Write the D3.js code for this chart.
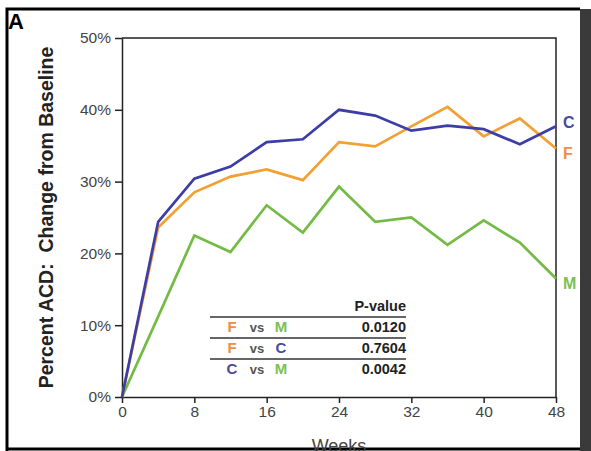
<!DOCTYPE html>
<html>
<head>
<meta charset="utf-8">
<script src="https://cdn.jsdelivr.net/npm/d3@7"></script>
<style>
  body { margin: 0; background: #fff; }
  svg { display: block; font-family: "Liberation Sans", Arial, sans-serif; }
</style>
</head>
<body>
<svg width="591" height="451"></svg>
<script>
// data (percent change from baseline)
const weeks = [0, 4, 8, 12, 16, 20, 24, 28, 32, 36, 40, 44, 48];
const seriesC = [0, 24.4, 30.4, 32.1, 35.5, 35.9, 40.0, 39.2, 37.1, 37.8, 37.3, 35.2, 37.7];
const seriesF = [0, 23.6, 28.5, 30.7, 31.7, 30.2, 35.5, 34.9, 37.7, 40.4, 36.3, 38.8, 34.6];
const seriesM = [0, 11.2, 22.5, 20.2, 26.7, 22.9, 29.3, 24.4, 25.0, 21.2, 24.6, 21.5, 16.5];
const xTicks = [0, 8, 16, 24, 32, 40, 48];
const yTicks = [0, 10, 20, 30, 40, 50];
const pRows = [
  { a: "F", b: "M", p: "0.0120" },
  { a: "F", b: "C", p: "0.7604" },
  { a: "C", b: "M", p: "0.0042" }
];

const colors = { C: "#3d3da6", F: "#f3a033", M: "#74bb45" };
const textColors = { C: "#4a4a9e", F: "#f08c45", M: "#7cc052" };

const svg = d3.select("svg");

// outer frame and dark strip on the right
svg.append("rect").attr("x", 580).attr("y", 9).attr("width", 11).attr("height", 442).attr("fill", "#3a3a3a");
svg.append("path").attr("d", "M7,451 V9 H580").attr("fill", "none").attr("stroke", "#000").attr("stroke-width", 3);
svg.append("line").attr("x1", 7).attr("x2", 580).attr("y1", 449).attr("y2", 449).attr("stroke", "#000").attr("stroke-width", 3);

svg.append("text").attr("x", 8).attr("y", 29).attr("font-size", 22).attr("font-weight", "bold").text("A");

const x = d3.scaleLinear().domain([0, 48]).range([122, 556]);
const y = d3.scaleLinear().domain([0, 50]).range([397, 38]);

// plot box top & right
svg.append("path").attr("d", `M${x(0)},${y(50)} H${x(48)} V${y(0)}`)
  .attr("fill", "none").attr("stroke", "#222").attr("stroke-width", 1.5);

const xAxis = svg.append("g").attr("transform", `translate(0,${y(0)})`)
  .call(d3.axisBottom(x).tickValues(xTicks).tickSize(6).tickSizeOuter(0).tickPadding(3));
const yAxis = svg.append("g").attr("transform", `translate(${x(0)},0)`)
  .call(d3.axisLeft(y).tickValues(yTicks).tickFormat(d => d + "%").tickSize(7).tickSizeOuter(0).tickPadding(4));
[xAxis, yAxis].forEach(g => {
  g.select(".domain").attr("stroke", "#222").attr("stroke-width", 1.5);
  g.selectAll(".tick line").attr("stroke", "#222").attr("stroke-width", 1.5);
  g.selectAll(".tick text").attr("fill", "#444").attr("font-size", 15.5).attr("font-family", "Liberation Sans, Arial, sans-serif");
});

svg.append("text")
  .attr("transform", `translate(53,${(y(0) + y(50)) / 2}) rotate(-90)`)
  .attr("text-anchor", "middle").attr("font-size", 19.5).attr("font-weight", "bold").attr("fill", "#222")
  .style("white-space", "pre")
  .text("Percent ACD:  Change from Baseline");

svg.append("text").attr("x", x(24)).attr("y", 452).attr("text-anchor", "middle")
  .attr("font-size", 18).attr("fill", "#444").text("Weeks");

// lines
const line = d3.line().x((d, i) => x(weeks[i])).y(d => y(d));
[["M", seriesM], ["F", seriesF], ["C", seriesC]].forEach(([k, vals]) => {
  svg.append("path").datum(vals).attr("d", line)
    .attr("fill", "none").attr("stroke", colors[k]).attr("stroke-width", 2.7).attr("stroke-linejoin", "miter");
});

// end labels
[["C", 128], ["F", 159], ["M", 289]].forEach(([k, yy]) => {
  svg.append("text").attr("x", 563).attr("y", yy).attr("font-size", 16).attr("font-weight", "bold")
    .attr("fill", textColors[k]).text(k);
});

// p-value table
const tbl = svg.append("g");
tbl.append("text").attr("x", 406).attr("y", 311).attr("text-anchor", "end")
  .attr("font-size", 14.5).attr("font-weight", "bold").attr("fill", "#222").text("P-value");
[317, 338, 359].forEach(ly => {
  tbl.append("line").attr("x1", 210).attr("x2", 406).attr("y1", ly).attr("y2", ly)
    .attr("stroke", "#333").attr("stroke-width", 1.3);
});
pRows.forEach((r, i) => {
  const by = 332 + i * 21;
  tbl.append("text").attr("x", 232).attr("y", by).attr("text-anchor", "middle").attr("font-size", 15)
    .attr("font-weight", "bold").attr("fill", textColors[r.a]).text(r.a);
  tbl.append("text").attr("x", 257).attr("y", by).attr("text-anchor", "middle").attr("font-size", 13)
    .attr("font-weight", "bold").attr("fill", "#555").text("vs");
  tbl.append("text").attr("x", 281).attr("y", by).attr("text-anchor", "middle").attr("font-size", 15)
    .attr("font-weight", "bold").attr("fill", textColors[r.b]).text(r.b);
  tbl.append("text").attr("x", 406).attr("y", by).attr("text-anchor", "end").attr("font-size", 14.5)
    .attr("font-weight", "bold").attr("fill", "#222").text(r.p);
});
</script>
</body>
</html>
